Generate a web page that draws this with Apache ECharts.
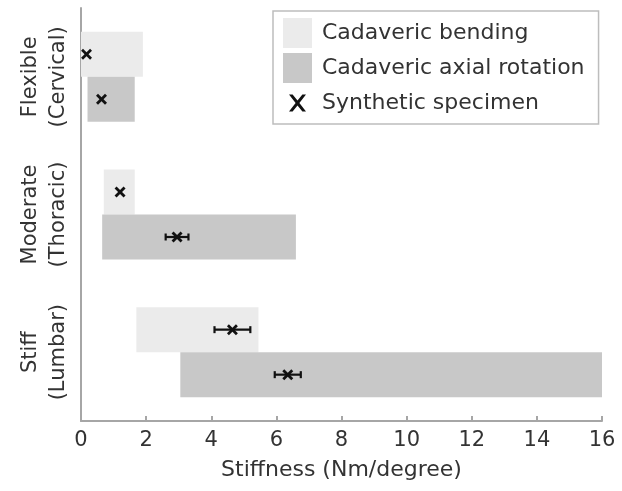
<!DOCTYPE html>
<html>
<head>
<meta charset="utf-8">
<script src="https://cdn.jsdelivr.net/npm/echarts@6/dist/echarts.min.js"></script>
<style>
  html, body { margin: 0; padding: 0; background: #fff; }
  #chart { width: 622px; height: 491px; }
</style>
</head>
<body>
<div id="chart"></div>
<script>
// Spinal segment groups (top to bottom)
const categories = ['Flexible\n(Cervical)', 'Moderate\n(Thoracic)', 'Stiff\n(Lumbar)'];

// Cadaveric stiffness ranges (Nm/degree)
const bendingLow  = [0.0, 0.7, 1.7];
const bendingHigh = [1.9, 1.65, 5.45];
const axialLow    = [0.2, 0.65, 3.05];
const axialHigh   = [1.65, 6.6, 16.0];

// Synthetic specimen means with error range
const synthBendMean = [0.17, 1.2, 4.65];
const synthBendLo   = [0.17, 1.2, 4.1];
const synthBendHi   = [0.17, 1.2, 5.2];
const synthAxMean   = [0.63, 2.95, 6.35];
const synthAxLo     = [0.63, 2.6, 5.95];
const synthAxHi     = [0.63, 3.3, 6.75];

// x-axis ticks
const xMin = 0, xMax = 16, xStep = 2;

const BAR_W = 45;

const synthData = [];
categories.forEach((c, i) => {
  synthData.push([i, synthBendMean[i], synthBendLo[i], synthBendHi[i], 0]);
  synthData.push([i, synthAxMean[i], synthAxLo[i], synthAxHi[i], 1]);
});

const xIcon = 'path://M0,0L0.01,0M29,30L28.99,30' +
  'M6,6.5H9.6L14.5,12.4L19.4,6.5H23L16.4,15L23,23.5H19.4L14.5,17.6L9.6,23.5H6L12.6,15Z';

const chart = echarts.init(document.getElementById('chart'));
const FONT = '"DejaVu Sans", sans-serif';
const TXT = '#333';

chart.setOption({
  animation: false,
  textStyle: { fontFamily: FONT },
  grid: { left: 81, right: 20, top: 8, bottom: 70, containLabel: false },
  legend: {
    orient: 'vertical',
    left: 273, top: 11,
    padding: [7, 14, 6, 10],
    borderColor: '#bdbdbd', borderWidth: 1.5,
    itemWidth: 29, itemHeight: 30, itemGap: 5,
    textStyle: { fontSize: 22, color: TXT, fontFamily: FONT, padding: [0, 0, 0, 5] },
    data: [
      { name: 'Cadaveric bending', icon: 'rect' },
      { name: 'Cadaveric axial rotation', icon: 'rect' },
      { name: 'Synthetic specimen', icon: xIcon }
    ]
  },
  xAxis: {
    type: 'value', min: xMin, max: xMax, interval: xStep,
    name: 'Stiffness (Nm/degree)', nameLocation: 'middle', nameGap: 38,
    nameTextStyle: { fontSize: 22, color: TXT, fontFamily: FONT },
    axisLine: { show: true, lineStyle: { color: '#a6a6a6', width: 2 } },
    axisTick: { show: true, inside: true, length: 5, lineStyle: { color: '#a6a6a6', width: 2 } },
    axisLabel: { fontSize: 21, color: TXT, margin: 9, fontFamily: FONT },
    splitLine: { show: false }
  },
  yAxis: {
    type: 'category', data: categories, inverse: true,
    axisLine: { show: true, lineStyle: { color: '#a6a6a6', width: 2 } },
    axisTick: { show: false },
    axisLabel: {
      rotate: 90, fontSize: 21, lineHeight: 28, color: TXT, margin: 8,
      align: 'center', verticalAlign: 'bottom', fontFamily: FONT
    }
  },
  series: [
    { name: 'bendBase', type: 'bar', stack: 'bend', barWidth: BAR_W, barGap: '0%', silent: true,
      itemStyle: { color: 'transparent' }, data: bendingLow },
    { name: 'Cadaveric bending', type: 'bar', stack: 'bend', barWidth: BAR_W, barGap: '0%',
      itemStyle: { color: '#ebebeb' },
      data: bendingHigh.map((h, i) => +(h - bendingLow[i]).toFixed(3)) },
    { name: 'axBase', type: 'bar', stack: 'axial', barWidth: BAR_W, barGap: '0%', silent: true,
      itemStyle: { color: 'transparent' }, data: axialLow },
    { name: 'Cadaveric axial rotation', type: 'bar', stack: 'axial', barWidth: BAR_W, barGap: '0%',
      itemStyle: { color: '#c8c8c8' },
      data: axialHigh.map((h, i) => +(h - axialLow[i]).toFixed(3)) },
    {
      name: 'Synthetic specimen', type: 'custom', z: 10,
      itemStyle: { color: '#111' },
      encode: { x: 1, y: 0 },
      data: synthData,
      renderItem: function (params, api) {
        const cat = api.value(0);
        const row = api.value(4);
        const dy = row === 0 ? -BAR_W / 2 : BAR_W / 2;
        const c = api.coord([api.value(1), cat]);
        const lo = api.coord([api.value(2), cat]);
        const hi = api.coord([api.value(3), cat]);
        const y = c[1] + dy;
        const s = 4.5;
        const st = { stroke: '#111', lineWidth: 2.2 };
        const kids = [];
        if (hi[0] - lo[0] > 2) {
          kids.push({ type: 'line', shape: { x1: lo[0], y1: y, x2: hi[0], y2: y }, style: st });
          kids.push({ type: 'line', shape: { x1: lo[0], y1: y - 3.5, x2: lo[0], y2: y + 3.5 }, style: st });
          kids.push({ type: 'line', shape: { x1: hi[0], y1: y - 3.5, x2: hi[0], y2: y + 3.5 }, style: st });
        }
        kids.push({ type: 'line', shape: { x1: c[0] - s, y1: y - s, x2: c[0] + s, y2: y + s }, style: { stroke: '#111', lineWidth: 2.8 } });
        kids.push({ type: 'line', shape: { x1: c[0] - s, y1: y + s, x2: c[0] + s, y2: y - s }, style: { stroke: '#111', lineWidth: 2.8 } });
        return { type: 'group', children: kids };
      }
    }
  ]
});
</script>
</body>
</html>
